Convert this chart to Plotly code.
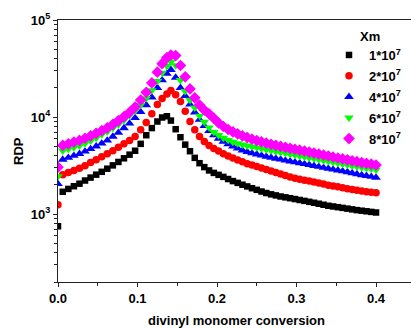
import plotly.graph_objects as go

# divinyl monomer conversion (shared grid)
conversion = [0.000, 0.006, 0.013, 0.020, 0.027, 0.034, 0.041, 0.048, 0.055, 0.062,
              0.069, 0.076, 0.083, 0.090, 0.097, 0.104, 0.111, 0.118, 0.125, 0.131,
              0.137, 0.142, 0.148, 0.154, 0.160, 0.166, 0.172, 0.178, 0.184, 0.190,
              0.196, 0.202, 0.208, 0.214, 0.220, 0.226, 0.232, 0.238, 0.244, 0.250,
              0.256, 0.262, 0.268, 0.274, 0.280, 0.286, 0.292, 0.298, 0.304, 0.310,
              0.316, 0.322, 0.328, 0.334, 0.340, 0.346, 0.352, 0.358, 0.364, 0.370,
              0.376, 0.382, 0.388, 0.394, 0.400]

rdp_1e7 = [750, 1700, 1820, 1940, 2060, 2220, 2380, 2550, 2730, 2940,
           3180, 3450, 3760, 4100, 4500, 5300, 6500, 7700, 9000, 9900,
           10200, 9200, 7500, 6200, 5200, 4450, 3800, 3350, 3050, 2820,
           2660, 2540, 2420, 2300, 2190, 2100, 2010, 1930, 1850, 1780,
           1710, 1650, 1600, 1560, 1520, 1490, 1460, 1430, 1400, 1370,
           1340, 1310, 1280, 1250, 1220, 1200, 1180, 1160, 1140, 1120,
           1100, 1085, 1070, 1055, 1040]

rdp_2e7 = [1250, 2550, 2680, 2820, 2970, 3150, 3400, 3640, 3900, 4180,
           4500, 4900, 5300, 5750, 6300, 7400, 8800, 10800, 13500, 15500,
           17300, 18800, 17000, 14500, 11500, 9000, 7400, 6300, 5600, 5100,
           4750, 4460, 4200, 3980, 3780, 3620, 3470, 3300, 3200, 3100,
           2980, 2880, 2780, 2680, 2590, 2500, 2420, 2350, 2290, 2240,
           2190, 2140, 2090, 2040, 1990, 1950, 1910, 1870, 1830, 1790,
           1760, 1730, 1700, 1680, 1660]

rdp_4e7 = [2050, 3650, 3820, 4000, 4180, 4420, 4700, 5000, 5350, 5750,
           6300, 6900, 7700, 8600, 9800, 11300, 13300, 16000, 20000, 24000,
           28000, 30700, 25500, 20000, 16500, 13500, 11200, 9400, 8100, 7200,
           6500, 6000, 5600, 5250, 4980, 4750, 4550, 4380, 4250, 4130,
           4020, 3920, 3830, 3740, 3660, 3580, 3500, 3430, 3360, 3290,
           3220, 3150, 3080, 3010, 2950, 2890, 2830, 2770, 2710, 2650,
           2590, 2530, 2480, 2430, 2380]

rdp_6e7 = [2450, 4500, 4680, 4870, 5080, 5350, 5700, 6100, 6600, 7100,
           7700, 8400, 9300, 10400, 11600, 13300, 15600, 18800, 23500, 28500,
           33500, 37000, 34000, 24000, 18500, 15000, 12500, 10300, 8900, 7800,
           7000, 6500, 6100, 5800, 5550, 5350, 5200, 5080, 4960, 4850,
           4740, 4630, 4530, 4430, 4340, 4250, 4160, 4070, 3980, 3900,
           3820, 3740, 3660, 3580, 3500, 3430, 3360, 3290, 3220, 3150,
           3090, 3030, 2970, 2920, 2870]

rdp_8e7 = [3050, 5100, 5300, 5520, 5750, 6050, 6400, 6800, 7250, 7750,
           8400, 9200, 10100, 11200, 12700, 15000, 18000, 22500, 29000, 35500,
           41000, 43500, 43000, 34000, 26000, 19500, 15800, 13300, 11800, 10800,
           9700, 8700, 8000, 7450, 7050, 6700, 6400, 6150, 5920, 5720,
           5540, 5380, 5240, 5110, 4990, 4880, 4770, 4660, 4560, 4460,
           4360, 4260, 4160, 4060, 3970, 3880, 3790, 3710, 3630, 3550,
           3470, 3400, 3330, 3270, 3210]

series_names = ["<b>1*10<sup>7</sup></b>", "<b>2*10<sup>7</sup></b>", "<b>4*10<sup>7</sup></b>",
                "<b>6*10<sup>7</sup></b>", "<b>8*10<sup>7</sup></b>"]
series_values = [rdp_1e7, rdp_2e7, rdp_4e7, rdp_6e7, rdp_8e7]
symbols = ["square", "circle", "triangle-up", "triangle-down", "diamond"]
colors = ["#000000", "#ff0000", "#0000ff", "#00ff00", "#ff00ff"]
sizes = [6.5, 7.5, 8.5, 8.5, 9]

x_ticks = [0.0, 0.1, 0.2, 0.3, 0.4]
x_ticktext = ["0.0", "0.1", "0.2", "0.3", "0.4"]
y_ticks = [1e3, 1e4, 1e5]
y_ticktext = ["<b>10<sup>3</sup></b>", "<b>10<sup>4</sup></b>", "<b>10<sup>5</sup></b>"]

FONT = "Arial, Liberation Sans, sans-serif"

fig = go.Figure()
for i, (name, vals, sym, col, sz) in enumerate(zip(series_names, series_values, symbols, colors, sizes)):
    fig.add_trace(go.Scatter(x=conversion, y=vals, mode="markers", name=name,
                             legendgroup="g%d" % i,
                             marker=dict(symbol=sym, color=col, size=sz, line=dict(width=0))))

W, H = 411, 328
L, R, T, B = 58, 0, 20, 46
pw, ph = W - L - R, H - T - B

def px(xp):
    return (xp - L) / pw

def py(yp):
    return (H - B - yp) / ph

minor_y = [m * 10 ** e for e in (2, 3, 4) for m in range(2, 10)]

fig.update_layout(
    width=W, height=H,
    margin=dict(l=L, r=R, t=T, b=B),
    paper_bgcolor="white", plot_bgcolor="white",
    font=dict(family=FONT, size=13, color="black"),
    showlegend=True,
    legend=dict(x=px(329), y=py(40), xanchor="left", yanchor="top",
                tracegroupgap=1,
                bgcolor="rgba(0,0,0,0)", borderwidth=0,
                font=dict(family=FONT, size=13, color="black")),
    xaxis=dict(range=[0, 0.444], tickvals=x_ticks, ticktext=["<b>%s</b>" % t for t in x_ticktext],
               ticks="outside", ticklen=4, tickwidth=1.3, tickcolor="#222",
               showline=True, linecolor="#222", linewidth=1.3, mirror=True,
               showgrid=False, zeroline=False,
               tickfont=dict(family=FONT, size=13, color="black"),
               minor=dict(ticks="outside", ticklen=2.5, tickwidth=1.1, tickcolor="#222",
                          dtick=0.05, tick0=0, showgrid=False)),
    yaxis=dict(type="log", range=[2.301, 5], tickvals=y_ticks, ticktext=y_ticktext,
               ticks="outside", ticklen=4, tickwidth=1.3, tickcolor="#222",
               showline=True, linecolor="#222", linewidth=1.3, mirror=False,
               showgrid=False, zeroline=False,
               tickfont=dict(family=FONT, size=13, color="black"),
               minor=dict(ticks="outside", ticklen=2.5, tickwidth=1.1, tickcolor="#222",
                          tickvals=minor_y, showgrid=False)),
    annotations=[
        dict(text="<b>RDP</b>", x=px(18), y=py(151), xref="paper", yref="paper",
             textangle=-90, showarrow=False, xanchor="center", yanchor="middle",
             font=dict(family=FONT, size=13)),
        dict(text="<b>divinyl monomer conversion</b>", x=px(236), y=py(320), xref="paper", yref="paper",
             showarrow=False, xanchor="center", yanchor="middle",
             font=dict(family=FONT, size=13)),
        dict(text="<b>Xm</b>", x=px(358), y=py(36), xref="paper", yref="paper",
             showarrow=False, xanchor="left", yanchor="middle",
             font=dict(family=FONT, size=13)),
    ],
)

fig.write_html("out.html")
